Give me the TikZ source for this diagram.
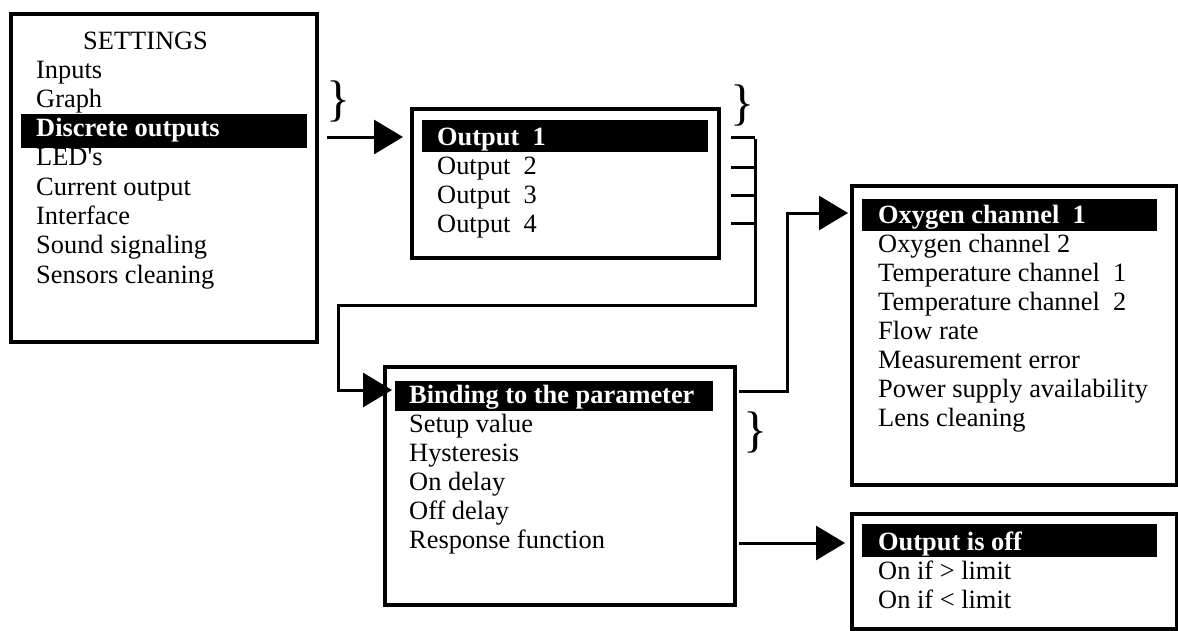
\documentclass[tikz,border=0pt]{standalone}
\usepackage{fontspec}
\setmainfont{Liberation Serif}
\newfontfamily\nomapfont{Liberation Serif}[Ligatures=ResetAll]
\usetikzlibrary{arrows.meta,calc}
\begin{document}
\begin{tikzpicture}[x=1pt,y=-1pt,
  menubox/.style={draw=black,line width=4pt,fill=white,rectangle,inner sep=0pt,anchor=north west},
  hlbar/.style={fill=black,rectangle,inner sep=0pt,anchor=north west},
  item/.style={anchor=base west,inner sep=0pt,font=\fontsize{26.4}{29}\selectfont},
  hitem/.style={item,text=white,font=\fontsize{26.4}{29}\selectfont\bfseries},
  brace/.style={anchor=base west,inner sep=0pt,font=\fontsize{50}{52}\selectfont},
  conn/.style={line width=3pt,draw=black},
  bigarrow/.style={conn,-{Triangle[length=29pt,width=34pt]}}]
\useasboundingbox (0,0) rectangle (1178,630);
% boxes
\node[menubox,minimum width=306pt,minimum height=328pt] (b1) at (9,12) {};
\node[menubox,minimum width=307pt,minimum height=149pt] (b2) at (410,107) {};
\node[menubox,minimum width=350pt,minimum height=238pt] (b3) at (383,365) {};
\node[menubox,minimum width=325pt,minimum height=299pt] (b4) at (850,184) {};
\node[menubox,minimum width=325pt,minimum height=115pt] (b5) at (850,512) {};
% highlight bars
\node[hlbar,minimum width=286pt,minimum height=34pt] (h1) at (21,114) {};
\node[hlbar,minimum width=286pt,minimum height=32pt] (h2) at (422,120) {};
\node[hlbar,minimum width=318pt,minimum height=30pt] (h3) at (395,381) {};
\node[hlbar,minimum width=295pt,minimum height=32pt] (h4) at (862,199) {};
\node[hlbar,minimum width=295pt,minimum height=33pt] (h5) at (862,524) {};
% box 1
\node[item] (t1a) at (83,49) {SETTINGS};
\node[item] (t1b) at (36,78) {Inputs};
\node[item] (t1c) at (36,107) {Graph};
\node[hitem] (t1d) at (36,136) {Discrete outputs};
\node[item] (t1e) at (36,165) {LED{\nomapfont '}s};
\node[item] (t1f) at (36,195) {Current output};
\node[item] (t1g) at (36,224) {Interface};
\node[item] (t1h) at (36,253) {Sound signaling};
\node[item] (t1i) at (36,283) {Sensors cleaning};
% box 2
\node[hitem] (t2a) at (437,145) {Output\ \ 1};
\node[item] (t2b) at (437,174) {Output\ \ 2};
\node[item] (t2c) at (437,203) {Output\ \ 3};
\node[item] (t2d) at (437,232) {Output\ \ 4};
% box 3
\node[hitem] (t3a) at (409,403) {Binding to the parameter};
\node[item] (t3b) at (409,432) {Setup value};
\node[item] (t3c) at (409,461) {Hysteresis};
\node[item] (t3d) at (409,490) {On delay};
\node[item] (t3e) at (409,519) {Off delay};
\node[item] (t3f) at (409,548) {Response function};
% box 4
\node[hitem] (t4a) at (878,223) {Oxygen channel\ \ 1};
\node[item] (t4b) at (878,252) {Oxygen channel 2};
\node[item] (t4c) at (878,281) {Temperature channel\ \ 1};
\node[item] (t4d) at (878,310) {Temperature channel\ \ 2};
\node[item] (t4e) at (878,339) {Flow rate};
\node[item] (t4f) at (878,368) {Measurement error};
\node[item] (t4g) at (878,397) {Power supply availability};
\node[item] (t4h) at (878,426) {Lens cleaning};
% box 5
\node[hitem] (t5a) at (878,550) {Output is off};
\node[item] (t5b) at (878,579) {On if > limit};
\node[item] (t5c) at (878,608) {On if < limit};
% braces
\node[brace] (br1) at (326,115) {\}};
\node[brace] (br2) at (730,119) {\}};
\node[brace] (br3) at (743,446) {\}};
% connectors
\draw[bigarrow] ([xshift=8pt]b1.east |- 0,137) -- ([xshift=-7pt]b2.west |- 0,137);
\coordinate (j1) at (755,137);
\coordinate (j2) at (755,167);
\coordinate (j3) at (755,195);
\coordinate (j4) at (755,223);
\coordinate (c1) at (338,305);
\draw[conn] ([xshift=10pt]b2.east |- j1) -- (j1);
\draw[conn] ([xshift=10pt]b2.east |- j2) -- (j2);
\draw[conn] ([xshift=10pt]b2.east |- j3) -- (j3);
\draw[conn] ([xshift=10pt]b2.east |- j4) -- (j4);
\draw[bigarrow] ([yshift=-1.5pt]j1) |- (c1) |- ([xshift=9pt]b3.west |- 0,390);
\coordinate (c2) at (787,213);
\draw[bigarrow] ([xshift=2pt]b3.east |- 0,391) -| (c2) -- ([xshift=-2pt]b4.west |- c2);
\draw[bigarrow] ([xshift=2pt]b3.east |- 0,543) -- ([xshift=-5pt]b5.west |- 0,543);
\end{tikzpicture}
\end{document}
